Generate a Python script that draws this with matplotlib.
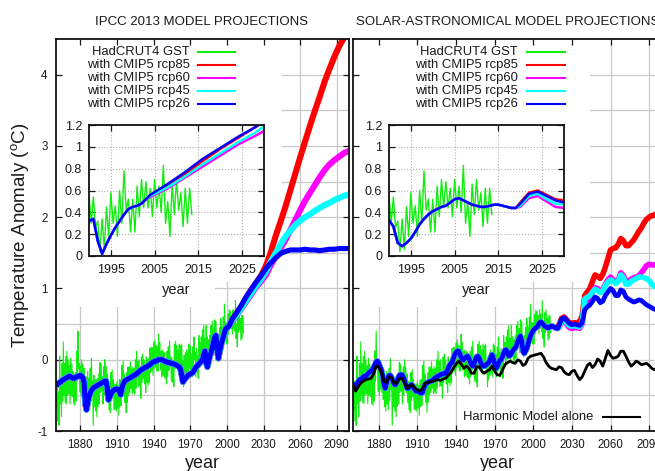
import numpy as np
import matplotlib
matplotlib.use("Agg")
import matplotlib.pyplot as plt
from matplotlib.patches import Rectangle
from matplotlib.lines import Line2D

plt.rcParams['font.family'] = ['Liberation Sans', 'DejaVu Sans']
plt.rcParams['mathtext.fontset'] = 'custom'
plt.rcParams['mathtext.rm'] = 'Liberation Sans'
plt.rcParams['axes.unicode_minus'] = False

# ---------------- DATA ----------------
# HadCRUT4 GST, two readings per year (upper / lower excursion), 1860.0 .. 2013.5
hadcrut = [
    -0.10, -0.70, -0.30, -0.86, -0.45, -0.92, 0.05, -0.62, -0.28, -0.80,
    -0.05, -0.58, 0.25, -0.50, -0.05, -0.60, 0.05, -0.62, 0.12, -0.50,
    0.00, -0.48, -0.08, -0.62, 0.02, -0.50, -0.06, -0.52, -0.16, -0.62,
    -0.20, -0.64, -0.18, -0.58, 0.12, -0.30, 0.40, -0.12, -0.05, -0.45,
    -0.08, -0.50, 0.00, -0.42, -0.06, -0.46, -0.12, -0.56, -0.26, -0.66,
    -0.24, -0.72, -0.16, -0.62, -0.26, -0.70, -0.12, -0.58, 0.02, -0.42,
    -0.30, -0.92, -0.22, -0.66, -0.28, -0.72, -0.28, -0.80, -0.26, -0.66,
    -0.20, -0.62, -0.04, -0.46, -0.06, -0.44, -0.24, -0.62, -0.10, -0.50,
    0.00, -0.38, -0.10, -0.46, -0.20, -0.60, -0.30, -0.70, -0.36, -0.74,
    -0.18, -0.58, -0.14, -0.52, -0.28, -0.70, -0.34, -0.70, -0.34, -0.72,
    -0.30, -0.68, -0.36, -0.78, -0.28, -0.66, -0.28, -0.64, -0.08, -0.46,
    -0.02, -0.42, -0.20, -0.60, -0.30, -0.74, -0.18, -0.60, -0.10, -0.50,
    -0.10, -0.46, -0.03, -0.40, -0.13, -0.48, -0.10, -0.46, -0.12, -0.48,
    0.00, -0.40, 0.12, -0.26, -0.02, -0.38, 0.00, -0.36, -0.16, -0.54,
    0.04, -0.32, 0.08, -0.26, 0.00, -0.34, -0.12, -0.46, 0.04, -0.32,
    0.00, -0.36, 0.02, -0.32, 0.16, -0.18, 0.18, -0.16, 0.17, -0.22,
    0.24, -0.12, 0.28, -0.10, 0.20, -0.16, 0.19, -0.16, 0.36, 0.00,
    0.24, -0.14, 0.12, -0.24, 0.14, -0.22, 0.12, -0.24, 0.10, -0.26,
    0.00, -0.34, 0.12, -0.24, 0.18, -0.15, 0.26, -0.08, 0.04, -0.30,
    0.02, -0.32, -0.03, -0.38, 0.22, -0.12, 0.26, -0.12, 0.20, -0.14,
    0.14, -0.20, 0.22, -0.10, 0.20, -0.12, 0.22, -0.12, -0.03, -0.38,
    0.06, -0.28, 0.10, -0.22, 0.14, -0.20, 0.10, -0.24, 0.22, -0.12,
    0.20, -0.14, 0.08, -0.24, 0.18, -0.16, 0.32, 0.00, 0.10, -0.24,
    0.16, -0.18, 0.06, -0.26, 0.34, 0.02, 0.24, -0.10, 0.32, 0.00,
    0.42, 0.10, 0.48, 0.14, 0.30, -0.02, 0.48, 0.14, 0.32, 0.00,
    0.28, -0.06, 0.34, 0.02, 0.48, 0.16, 0.54, 0.20, 0.44, 0.10,
    0.56, 0.30, 0.54, 0.26, 0.32, 0.04, 0.34, 0.06, 0.45, 0.18,
    0.58, 0.30, 0.46, 0.18, 0.60, 0.30, 0.78, 0.42, 0.52, 0.22,
    0.52, 0.22, 0.64, 0.36, 0.70, 0.44, 0.68, 0.44, 0.62, 0.36,
    0.70, 0.44, 0.64, 0.40, 0.83, 0.30, 0.50, 0.18, 0.66, 0.38,
    0.70, 0.42, 0.58, 0.27, 0.62, 0.30, 0.62, 0.38,
]
hadcrut_years = 1860 + 0.5 * np.arange(len(hadcrut))

# IPCC 2013 (CMIP5) model: common historical part 1860..2004 (yearly)
ipcc_hist_years = np.arange(1860, 2005)
ipcc_hist = [
    -0.34, -0.35, -0.33, -0.32, -0.31, -0.29, -0.28, -0.27, -0.26, -0.25,
    -0.24, -0.23, -0.24, -0.25, -0.26, -0.26, -0.25, -0.24, -0.23, -0.23,
    -0.22, -0.23, -0.25, -0.32, -0.62, -0.70, -0.60, -0.52, -0.47, -0.43,
    -0.41, -0.39, -0.38, -0.37, -0.36, -0.35, -0.34, -0.33, -0.32, -0.31,
    -0.30, -0.30, -0.40, -0.56, -0.52, -0.48, -0.45, -0.43, -0.42, -0.41,
    -0.41, -0.42, -0.45, -0.49, -0.40, -0.34, -0.31, -0.29, -0.28, -0.27,
    -0.26, -0.25, -0.24, -0.23, -0.22, -0.21, -0.20, -0.18, -0.17, -0.15,
    -0.14, -0.13, -0.12, -0.11, -0.10, -0.09, -0.08, -0.07, -0.05, -0.04,
    -0.03, -0.02, -0.02, -0.01, 0.00, 0.00, 0.00, 0.00, -0.01, -0.02,
    -0.03, -0.03, -0.04, -0.04, -0.05, -0.05, -0.06, -0.06, -0.07, -0.08,
    -0.09, -0.10, -0.13, -0.22, -0.31, -0.28, -0.26, -0.24, -0.22, -0.21,
    -0.20, -0.19, -0.18, -0.15, -0.12, -0.10, -0.08, -0.06, -0.04, -0.02,
    0.00, 0.07, 0.12, -0.04, -0.10, -0.02, 0.05, 0.10, 0.17, 0.24,
    0.32, 0.34, 0.14, 0.02, 0.11, 0.19, 0.26, 0.32, 0.38, 0.43,
    0.45, 0.46, 0.48, 0.52, 0.56,
]
# IPCC scenario projections 2004..2100 (every 4 years)
ipcc_future_years = np.arange(2004, 2101, 4)
ipcc_rcp85 = [0.55, 0.65, 0.75, 0.87, 0.98, 1.08, 1.18, 1.32, 1.51, 1.74, 1.94, 2.15, 2.38,
              2.61, 2.84, 3.06, 3.28, 3.49, 3.69, 3.90, 4.08, 4.25, 4.40, 4.52, 4.64]
ipcc_rcp60 = [0.54, 0.62, 0.72, 0.82, 0.92, 1.02, 1.10, 1.19, 1.33, 1.45, 1.57, 1.68, 1.82,
              1.96, 2.10, 2.23, 2.34, 2.45, 2.56, 2.66, 2.74, 2.80, 2.85, 2.90, 2.93]
ipcc_rcp45 = [0.55, 0.63, 0.73, 0.84, 0.94, 1.04, 1.13, 1.24, 1.38, 1.50, 1.62, 1.73, 1.81,
              1.89, 1.95, 2.00, 2.04, 2.09, 2.13, 2.17, 2.20, 2.24, 2.27, 2.30, 2.32]
ipcc_rcp26 = [0.56, 0.66, 0.77, 0.89, 0.99, 1.09, 1.18, 1.28, 1.36, 1.43, 1.49, 1.52, 1.54,
              1.54, 1.54, 1.55, 1.54, 1.54, 1.53, 1.54, 1.55, 1.55, 1.56, 1.56, 1.56]

# Solar-astronomical model: common historical part 1860..2020 (yearly)
solar_hist_years = np.arange(1860, 2021)
solar_hist = [
    -0.33, -0.37, -0.40, -0.36, -0.31, -0.28, -0.28, -0.26, -0.24, -0.23,
    -0.23, -0.21, -0.19, -0.17, -0.16, -0.14, -0.11, -0.07, -0.03, -0.02,
    -0.05, -0.10, -0.14, -0.22, -0.34, -0.40, -0.33, -0.26, -0.22, -0.22,
    -0.25, -0.30, -0.34, -0.35, -0.31, -0.26, -0.22, -0.21, -0.21, -0.24,
    -0.29, -0.35, -0.40, -0.40, -0.37, -0.35, -0.36, -0.39, -0.42, -0.44,
    -0.44, -0.45, -0.46, -0.47, -0.46, -0.40, -0.35, -0.33, -0.32, -0.31,
    -0.30, -0.30, -0.29, -0.27, -0.25, -0.24, -0.23, -0.22, -0.21, -0.20,
    -0.20, -0.19, -0.19, -0.16, -0.12, -0.08, -0.05, -0.04, 0.02, 0.07,
    0.10, 0.12, 0.12, 0.08, 0.03, 0.00, 0.00, 0.02, 0.04, 0.05,
    0.02, -0.03, -0.07, -0.09, -0.06, 0.00, 0.04, 0.05, 0.02, -0.03,
    -0.07, -0.09, -0.09, -0.08, -0.06, -0.05, -0.02, 0.03, 0.07, 0.02,
    -0.06, -0.12, -0.10, -0.05, -0.01, 0.00, 0.04, 0.09, 0.13, 0.14,
    0.10, 0.05, 0.06, 0.09, 0.12, 0.15, 0.16, 0.20, 0.26, 0.30,
    0.33, 0.27, 0.12, 0.09, 0.12, 0.16, 0.22, 0.29, 0.34, 0.38,
    0.41, 0.43, 0.45, 0.46, 0.49, 0.52, 0.53, 0.51, 0.49, 0.47,
    0.46, 0.45, 0.45, 0.46, 0.47, 0.47, 0.46, 0.45, 0.44, 0.44,
    0.48,
]
# Solar-astronomical scenario projections 2020..2100 (every 2 years)
solar_future_years = np.arange(2020, 2101, 2)
solar_rcp85 = [0.49, 0.58, 0.60, 0.56, 0.52, 0.51, 0.52, 0.52, 0.53, 0.62,
               0.90, 0.95, 1.00, 1.10, 1.19, 1.17, 1.14, 1.20, 1.30, 1.42,
               1.54, 1.56, 1.57, 1.62, 1.70, 1.67, 1.60, 1.60, 1.64, 1.68,
               1.74, 1.80, 1.85, 1.92, 1.97, 2.00, 2.02, 2.03, 2.05, 2.07, 2.08]
solar_rcp60 = [0.45, 0.53, 0.55, 0.50, 0.45, 0.44, 0.45, 0.45, 0.44, 0.50,
               0.80, 0.84, 0.88, 0.95, 1.01, 1.00, 0.96, 0.98, 1.06, 1.12,
               1.16, 1.12, 1.09, 1.12, 1.22, 1.18, 1.10, 1.10, 1.13, 1.15,
               1.16, 1.18, 1.22, 1.27, 1.32, 1.34, 1.33, 1.33, 1.34, 1.35, 1.36]
solar_rcp45 = [0.46, 0.55, 0.57, 0.52, 0.48, 0.47, 0.48, 0.47, 0.46, 0.52,
               0.85, 0.88, 0.90, 0.95, 0.99, 0.97, 0.94, 0.96, 1.04, 1.09,
               1.12, 1.10, 1.07, 1.10, 1.19, 1.15, 1.06, 1.06, 1.10, 1.12,
               1.14, 1.16, 1.16, 1.15, 1.14, 1.11, 1.06, 1.03, 1.02, 1.02, 1.03]
solar_rcp26 = [0.48, 0.57, 0.59, 0.55, 0.51, 0.49, 0.50, 0.49, 0.48, 0.52,
               0.70, 0.74, 0.77, 0.82, 0.88, 0.86, 0.80, 0.82, 0.90, 0.95,
               1.00, 0.97, 0.90, 0.90, 0.98, 0.96, 0.88, 0.85, 0.83, 0.81,
               0.82, 0.84, 0.83, 0.80, 0.77, 0.75, 0.73, 0.71, 0.70, 0.70, 0.71]

# Harmonic model alone, 1860..2100 (every 2 years)
harmonic_years = np.arange(1860, 2101, 2)
harmonic = [
    -0.35, -0.44, -0.38, -0.33, -0.30, -0.28, -0.27, -0.26, -0.20, -0.09,
    -0.10, -0.18, -0.30, -0.32, -0.24, -0.25, -0.33, -0.33, -0.27, -0.26,
    -0.32, -0.40, -0.37, -0.35, -0.40, -0.42, -0.44, -0.40, -0.33, -0.32,
    -0.31, -0.30, -0.29, -0.28, -0.29, -0.27, -0.26, -0.22, -0.18, -0.12,
    -0.06, -0.02, -0.06, -0.12, -0.09, -0.12, -0.19, -0.19, -0.10, -0.10,
    -0.16, -0.19, -0.16, -0.14, -0.09, -0.16, -0.21, -0.22, -0.15, -0.07,
    -0.04, -0.02, -0.04, -0.05, 0.00, -0.02, -0.08, -0.06, 0.02, 0.05,
    0.06, 0.07, 0.08, 0.09, 0.04, -0.04, -0.09, -0.12, -0.13, -0.14,
    -0.10, -0.11, -0.17, -0.20, -0.21, -0.16, -0.15, -0.22, -0.28, -0.24,
    -0.16, -0.08, -0.05, -0.11, -0.07, 0.01, -0.02, -0.09, 0.02, 0.13,
    0.06, 0.02, 0.03, 0.05, 0.12, 0.12, 0.05, -0.03, -0.09, -0.06,
    -0.02, -0.04, -0.07, -0.06, -0.05, -0.08, -0.12, -0.14, -0.12, -0.10,
    -0.10,
]

series_labels = ['HadCRUT4 GST', 'with CMIP5 rcp85', 'with CMIP5 rcp60',
                 'with CMIP5 rcp45', 'with CMIP5 rcp26']
series_colors = ['#10ee10', '#ff0000', '#ff00ff', '#00ffff', '#0000ff']
main_xticks = [1880, 1910, 1940, 1970, 2000, 2030, 2060, 2090]
main_yticks = [-1, 0, 1, 2, 3, 4]
inset_xticks = [1995, 2005, 2015, 2025]
inset_yticks = [0, 0.2, 0.4, 0.6, 0.8, 1.0, 1.2]
inset_ylabels = ['0', '0.2', '0.4', '0.6', '0.8', '1', '1.2']

# ---------------- LAYOUT HELPERS ----------------
W, H = 655, 471
def fx(px):
    return px / W
def fy(py):
    return 1 - py / H
def box(l, t, r, b):
    return [fx(l), fy(b), (r - l) / W, (b - t) / H]

TXT = '#1a1a1a'
fig = plt.figure(figsize=(6.55, 4.71), dpi=100)
fig.patch.set_facecolor('white')

def setup_main(ax, ylabels, white_boxes):
    ax.set_xlim(1860, 2100)
    ax.set_ylim(-1, 4.5)
    ax.set_xticks(main_xticks)
    ax.set_yticks(main_yticks)
    ax.set_yticklabels([str(v) for v in main_yticks])
    ax.tick_params(direction='in', length=4.5, width=0.9, top=True, right=True,
                   labelsize=8.3, colors=TXT, pad=6)
    if not ylabels:
        ax.tick_params(labelleft=False)
    for s in ax.spines.values():
        s.set_linewidth(1.3)
        s.set_color('#111111')
    for y in np.arange(-0.5, 4.5, 0.5):
        ax.axhline(y, color='#c8c8c8', lw=0.9, zorder=0.5)
    for x in main_xticks:
        ax.axvline(x, color='#c8c8c8', lw=0.9, zorder=0.5)
    for (l, t, r, b) in white_boxes:
        ax.add_patch(Rectangle((fx(l), fy(b)), (r - l) / W, (b - t) / H,
                               transform=fig.transFigure, facecolor='white',
                               edgecolor='none', zorder=1))

def setup_inset(ax):
    ax.set_xlim(1990, 2030)
    ax.set_ylim(0, 1.2)
    ax.set_xticks(inset_xticks)
    ax.set_yticks(inset_yticks)
    ax.set_yticklabels(inset_ylabels)
    ax.tick_params(direction='in', length=4, width=0.9, top=True, right=True,
                   labelsize=9, colors=TXT)
    ax.tick_params(axis='x', pad=5.5)
    ax.tick_params(axis='y', pad=5)
    ax.grid(True, linestyle=':', color='#b0b0b0', lw=0.8)
    for s in ax.spines.values():
        s.set_linewidth(1.3)
        s.set_color('#111111')
    ax.set_xlabel('year', fontsize=10.5, color=TXT, labelpad=5)
    ax.set_facecolor('white')

def legend(text_right, line_l, line_r, rows_y, labels, colors):
    for lab, col, yy in zip(labels, colors, rows_y):
        fig.text(fx(text_right), fy(yy), lab, ha='right', va='center',
                 fontsize=9.4, color=TXT, zorder=10)
        fig.add_artist(Line2D([fx(line_l), fx(line_r)], [fy(yy), fy(yy)],
                              transform=fig.transFigure, color=col, lw=1.5, zorder=10))

# ---------------- LEFT PANEL: IPCC ----------------
axL = fig.add_axes(box(56, 39, 349, 431))
setup_main(axL, True, [(56, 39, 282, 282), (56, 39, 215, 307)])

ipcc_scen = [ipcc_rcp85, ipcc_rcp60, ipcc_rcp45, ipcc_rcp26]
ipcc_x = np.concatenate([ipcc_hist_years[:-1], ipcc_future_years])

axL.plot(hadcrut_years, hadcrut, color=series_colors[0], lw=0.8, zorder=2)
for vals, col in zip(ipcc_scen, series_colors[1:]):
    y = np.concatenate([np.array(ipcc_hist[:-1]), np.array(vals)])
    axL.plot(ipcc_x, y, color=col, lw=4.4 if col != '#0000ff' else 3.7,
             zorder=2, solid_capstyle='butt')

insL = fig.add_axes(box(89, 125, 264, 256))
setup_inset(insL)
insL.plot(hadcrut_years, hadcrut, color=series_colors[0], lw=1.0)
for vals, col in zip(ipcc_scen, series_colors[1:]):
    y = np.concatenate([np.array(ipcc_hist[:-1]), np.array(vals)])
    insL.plot(ipcc_x, y, color=col, lw=1.8)

legend(190, 198, 235, [52, 65, 78, 91, 104], series_labels, series_colors)

# ---------------- RIGHT PANEL: SOLAR-ASTRONOMICAL ----------------
axR = fig.add_axes(box(353, 39, 662, 431))
setup_main(axR, False, [(353, 39, 590, 282), (353, 39, 520, 307)])

solar_scen = [solar_rcp85, solar_rcp60, solar_rcp45, solar_rcp26]
solar_x = np.concatenate([solar_hist_years[:-1], solar_future_years])

axR.plot(hadcrut_years, hadcrut, color=series_colors[0], lw=0.8, zorder=2)
for vals, col in zip(solar_scen, series_colors[1:]):
    y = np.concatenate([np.array(solar_hist[:-1]), np.array(vals)])
    axR.plot(solar_x, y, color=col, lw=4.0 if col != '#0000ff' else 3.4,
             zorder=2, solid_capstyle='butt')
axR.plot(harmonic_years, harmonic, color='black', lw=2.0, zorder=2)

insR = fig.add_axes(box(389, 125, 564, 256))
setup_inset(insR)
insR.plot(hadcrut_years, hadcrut, color=series_colors[0], lw=1.0)
for vals, col in zip(solar_scen, series_colors[1:]):
    y = np.concatenate([np.array(solar_hist[:-1]), np.array(vals)])
    insR.plot(solar_x, y, color=col, lw=1.8)

legend(518, 527, 565, [52, 65, 78, 91, 104], series_labels, series_colors)
legend(593, 603, 640, [417], ['Harmonic Model alone'], ['black'])

# ---------------- TEXTS ----------------
fig.text(fx(202), fy(25), 'IPCC 2013 MODEL PROJECTIONS', ha='center', va='baseline',
         fontsize=9.5, color=TXT)
fig.text(fx(508), fy(25), 'SOLAR-ASTRONOMICAL MODEL PROJECTIONS', ha='center',
         va='baseline', fontsize=9.5, color=TXT)
fig.text(fx(202), fy(468), 'year', ha='center', va='baseline', fontsize=13, color=TXT)
fig.text(fx(497), fy(468), 'year', ha='center', va='baseline', fontsize=13, color=TXT)
fig.text(fx(21), fy(235), r'Temperature Anomaly ($^{\mathrm{o}}$C)', rotation=90,
         ha='center', va='center', fontsize=13.5, color=TXT)

fig.savefig('out.png', dpi=100)
